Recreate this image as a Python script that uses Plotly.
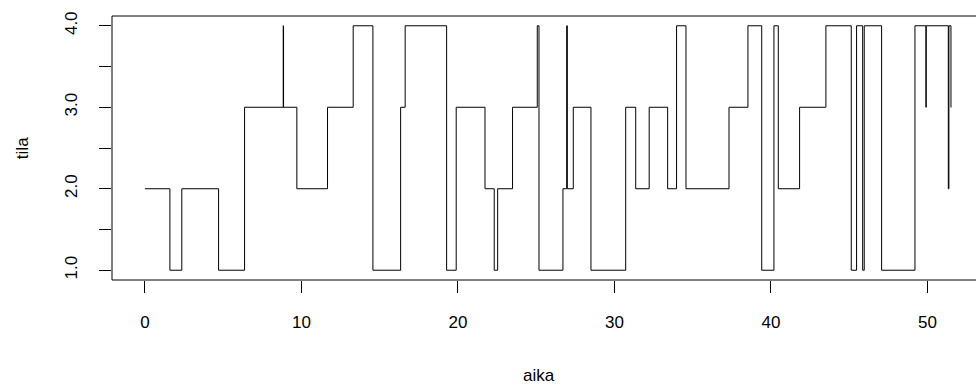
import plotly.graph_objects as go

# step-change times (aika) and states (tila)
aika = [0.00, 1.60, 2.36, 4.71, 6.37, 8.84, 8.86, 9.71, 11.67, 13.31, 14.57,
        16.34, 16.63, 19.28, 19.89, 21.73, 22.32, 22.54, 23.49, 25.07, 25.18,
        26.71, 26.95, 26.99, 27.37, 28.50, 30.72, 31.36, 32.22, 33.40, 33.97,
        34.57, 37.32, 38.53, 39.41, 40.19, 40.47, 41.83, 43.51, 45.13, 45.47,
        45.86, 45.96, 47.07, 49.20, 49.90, 49.92, 51.33, 51.37, 51.50, 51.52]
tila = [2, 1, 2, 1, 3, 4, 3, 2, 3, 4, 1,
        3, 4, 1, 3, 2, 1, 2, 3, 4, 1,
        2, 4, 2, 3, 1, 3, 2, 3, 2, 4,
        2, 3, 4, 1, 4, 2, 3, 4, 1, 4,
        1, 4, 1, 4, 3, 4, 2, 4, 3, 3]

x_ticks = [0, 10, 20, 30, 40, 50]
y_ticks = [1.0, 1.5, 2.0, 2.5, 3.0, 3.5, 4.0]
y_ticktext = ["1.0", "", "2.0", "", "3.0", "", "4.0"]

FONT = "Liberation Sans, Arial, Helvetica, sans-serif"

fig = go.Figure()
fig.add_trace(go.Scatter(x=aika, y=tila, mode="lines",
                         line=dict(color="black", width=1, shape="hv"),
                         showlegend=False, hoverinfo="skip"))

fig.update_layout(
    width=976, height=390,
    margin=dict(l=112, r=0, t=16, b=110),
    paper_bgcolor="white", plot_bgcolor="white",
    font=dict(family=FONT, size=17, color="black"),
    xaxis=dict(range=[-2.1, 53.1], tickvals=x_ticks, ticktext=[str(v) for v in x_ticks],
               ticks="outside", ticklen=12, tickwidth=1, tickcolor="black",
               showgrid=False, zeroline=False, showline=False,
               ticklabelstandoff=15),
    yaxis=dict(range=[0.88, 4.12], tickvals=y_ticks, ticktext=y_ticktext,
               ticks="outside", ticklen=12, tickwidth=1, tickcolor="black",
               tickangle=-90, showgrid=False, zeroline=False, showline=False,
               ticklabelstandoff=15),
    shapes=[dict(type="rect", xref="paper", yref="paper", x0=0, x1=1.05, y0=0, y1=1,
                 line=dict(color="black", width=1), fillcolor="rgba(0,0,0,0)")],
    annotations=[
        dict(text="aika", xref="paper", yref="paper", x=0.494, y=-0.36,
             xanchor="center", yanchor="middle", showarrow=False,
             font=dict(family=FONT, size=17)),
        dict(text="tila", xref="paper", yref="paper", x=-0.104, y=0.5,
             xanchor="center", yanchor="middle", showarrow=False, textangle=-90,
             font=dict(family=FONT, size=17)),
    ],
)

fig.write_html("out.html")
